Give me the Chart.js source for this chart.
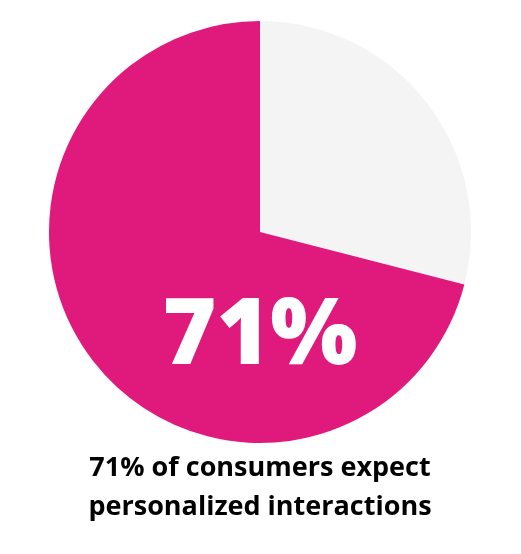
<!DOCTYPE html>
<html><head><meta charset="utf-8">
<script src="https://cdn.jsdelivr.net/npm/chart.js@4"></script>
<style>html,body{margin:0;padding:0;background:#fff}#w{width:521px;height:554px;position:relative}</style>
</head><body><div id="w"><canvas id="c"></canvas></div>
<script>
const categories = ["Do not expect", "Expect personalized interactions"];
const values = [29, 71];
const colors = ["#F4F4F4", "#E0197D"];
const bigLabel = "71%";
const captionLines = ["71% of consumers expect", "personalized interactions"];

const textPlugin = {
  id: 'txt',
  afterDraw(chart) {
    const ctx = chart.ctx;
    ctx.save();
    ctx.textAlign = 'center';
    ctx.textBaseline = 'middle';
    ctx.fillStyle = '#fff';
    ctx.font = '800 92px "Open Sans"';
    ctx.fillText(bigLabel, 260, 338);
    ctx.fillStyle = '#000';
    ctx.font = '700 27px "Open Sans"';
    ctx.fillText(captionLines[0], 260, 468);
    ctx.fillText(captionLines[1], 260, 507);
    ctx.restore();
  }
};

new Chart(document.getElementById('c'), {
  type: 'pie',
  data: { labels: categories, datasets: [{ data: values, backgroundColor: colors, borderWidth: 0 }] },
  options: {
    responsive: true, maintainAspectRatio: false, animation: false,
    layout: { padding: { top: 21, bottom: 111, left: 49, right: 50 } },
    plugins: { legend: { display: false }, tooltip: { enabled: false } }
  },
  plugins: [textPlugin]
});
</script></body></html>
